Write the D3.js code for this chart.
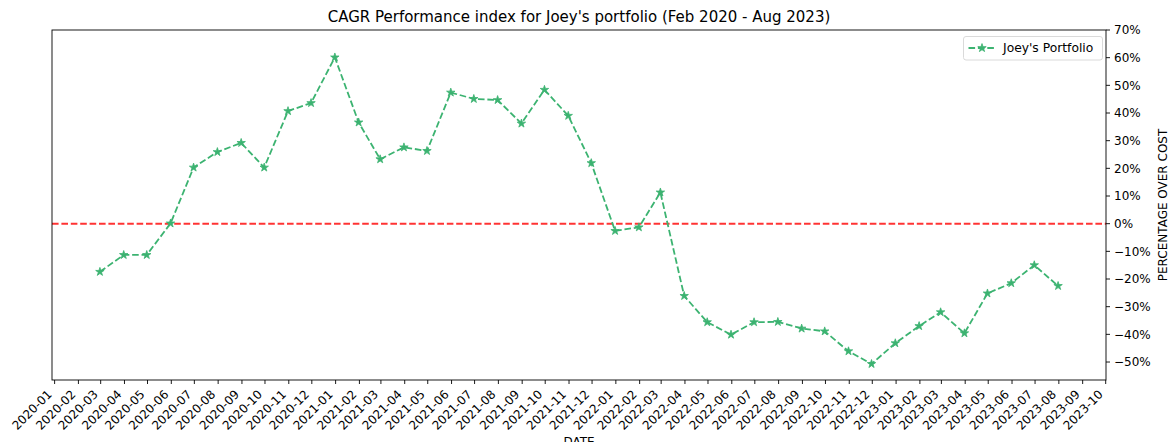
<!DOCTYPE html>
<html>
<head>
<meta charset="utf-8">
<script src="https://cdn.jsdelivr.net/npm/d3@7"></script>
<style>
  html, body { margin: 0; padding: 0; background: #fff; }
  svg { display: block; font-family: "DejaVu Sans", sans-serif; }
</style>
</head>
<body>
<svg id="chart" width="1173" height="442"></svg>
<script>
const dates = ["2020-02-29","2020-03-31","2020-04-30","2020-05-31","2020-06-30","2020-07-31","2020-08-31","2020-09-30","2020-10-31","2020-11-30","2020-12-31",
  "2021-01-31","2021-02-28","2021-03-31","2021-04-30","2021-05-31","2021-06-30","2021-07-31","2021-08-31","2021-09-30","2021-10-31","2021-11-30","2021-12-31",
  "2022-01-31","2022-02-28","2022-03-31","2022-04-30","2022-05-31","2022-06-30","2022-07-31","2022-08-31","2022-09-30","2022-10-31","2022-11-30","2022-12-31",
  "2023-01-31","2023-02-28","2023-03-31","2023-04-30","2023-05-31","2023-06-30","2023-07-31"];
const portfolio = [-17.4,-11.3,-11.3,0.1,20.3,25.9,29.2,20.3,40.7,43.6,60.1,
  36.6,23.3,27.6,26.3,47.4,45.1,44.7,36.2,48.4,39.0,21.9,
  -2.6,-1.3,11.3,-26.1,-35.6,-40.1,-35.6,-35.5,-37.9,-38.9,-46.1,-50.7,
  -43.2,-37.0,-32.0,-39.6,-25.2,-21.5,-15.0,-22.5];
const yTicks = [-50,-40,-30,-20,-10,0,10,20,30,40,50,60,70];
const xTickStart = "2020-01-01", xTickEnd = "2023-10-01";
const baseline = 0;
const yDomain = [-56.5, 70];
const titleText = "CAGR Performance index for Joey's portfolio (Feb 2020 - Aug 2023)";
const seriesName = "Joey's Portfolio";
const xLabel = "DATE", yLabel = "PERCENTAGE OVER COST";

const parse = d3.utcParse("%Y-%m-%d");
const data = dates.map((d, i) => ({date: parse(d), value: portfolio[i]}));

const margin = {left: 52, right: 1106, top: 30, bottom: 380};
const green = "#3cb371";
const fs = 12;

const svg = d3.select("#chart");

const t0 = data[0].date, t1 = data[data.length - 1].date;
const pad = (t1 - t0) * 0.05;
const x = d3.scaleUtc().domain([new Date(+t0 - pad), new Date(+t1 + pad)]).range([margin.left, margin.right]);
const y = d3.scaleLinear().domain(yDomain).range([margin.bottom, margin.top]);

// zero line
svg.append("line")
  .attr("x1", margin.left).attr("x2", margin.right)
  .attr("y1", y(baseline)).attr("y2", y(baseline))
  .attr("stroke", "red").attr("stroke-opacity", 0.8)
  .attr("stroke-width", 2).attr("stroke-dasharray", "6.6,2.8");

// series line
const line = d3.line().x(d => x(d.date)).y(d => y(d.value));
svg.append("path").datum(data)
  .attr("d", line).attr("fill", "none")
  .attr("stroke", green).attr("stroke-width", 1.8)
  .attr("stroke-dasharray", "6.6,2.8");

const star = d3.symbol().type(d3.symbolStar).size(22);
svg.append("g").selectAll("path").data(data).join("path")
  .attr("d", star)
  .attr("transform", d => `translate(${x(d.date)},${y(d.value)})`)
  .attr("fill", green).attr("stroke", green).attr("stroke-width", 0.8);

// spines
svg.append("rect")
  .attr("x", margin.left).attr("y", margin.top)
  .attr("width", margin.right - margin.left).attr("height", margin.bottom - margin.top)
  .attr("fill", "none").attr("stroke", "#000").attr("stroke-width", 0.9);

// x axis
const xTicks = d3.utcMonth.range(parse(xTickStart), new Date(+parse(xTickEnd) + 1));
const fmt = d3.utcFormat("%Y-%m");
const xg = svg.append("g");
xTicks.forEach(t => {
  const px = x(t);
  xg.append("line").attr("x1", px).attr("x2", px)
    .attr("y1", margin.bottom).attr("y2", margin.bottom + 4)
    .attr("stroke", "#000").attr("stroke-width", 0.9);
  xg.append("text")
    .attr("transform", `translate(${px - 2},${margin.bottom + 4 + 3.5 + 7.6}) rotate(-45)`)
    .attr("text-anchor", "end")
    .attr("font-size", fs).attr("fill", "#000")
    .text(fmt(t));
});

// y axis on right
const yfmt = v => d3.format("d")(v) + "%";
const yg = svg.append("g");
yTicks.forEach(v => {
  const py = y(v);
  yg.append("line").attr("x1", margin.right).attr("x2", margin.right + 4)
    .attr("y1", py).attr("y2", py)
    .attr("stroke", "#000").attr("stroke-width", 0.9);
  yg.append("text")
    .attr("x", margin.right + 8).attr("y", py)
    .attr("dy", "0.35em")
    .attr("font-size", fs).attr("fill", "#000")
    .text(yfmt(v));
});

// y label
svg.append("text")
  .attr("transform", `translate(1167,${(margin.top + margin.bottom) / 2}) rotate(-90)`)
  .attr("text-anchor", "middle").attr("font-size", fs).attr("fill", "#000")
  .text(yLabel);

// x label (partly cut at the bottom edge, as in the reference)
svg.append("text")
  .attr("x", (margin.left + margin.right) / 2).attr("y", 446)
  .attr("text-anchor", "middle").attr("font-size", fs).attr("fill", "#000")
  .text(xLabel);

// title
svg.append("text")
  .attr("x", (margin.left + margin.right) / 2).attr("y", 22)
  .attr("text-anchor", "middle").attr("font-size", 15).attr("fill", "#000")
  .text(titleText);

// legend
const lg = svg.append("g");
lg.append("rect")
  .attr("x", 963.5).attr("y", 36.5).attr("width", 139).attr("height", 23.5)
  .attr("rx", 2.5).attr("fill", "#fff").attr("fill-opacity", 0.8)
  .attr("stroke", "#d6d6d6").attr("stroke-width", 0.9);
lg.append("line")
  .attr("x1", 968.5).attr("x2", 995.5).attr("y1", 48).attr("y2", 48)
  .attr("stroke", green).attr("stroke-width", 1.8).attr("stroke-dasharray", "6.6,2.8");
lg.append("path").attr("d", star).attr("transform", "translate(982,48)")
  .attr("fill", green).attr("stroke", green).attr("stroke-width", 0.8);
lg.append("text")
  .attr("x", 1003).attr("y", 48).attr("dy", "0.35em")
  .attr("font-size", 12.3).attr("fill", "#000")
  .text(seriesName);
</script>
</body>
</html>
